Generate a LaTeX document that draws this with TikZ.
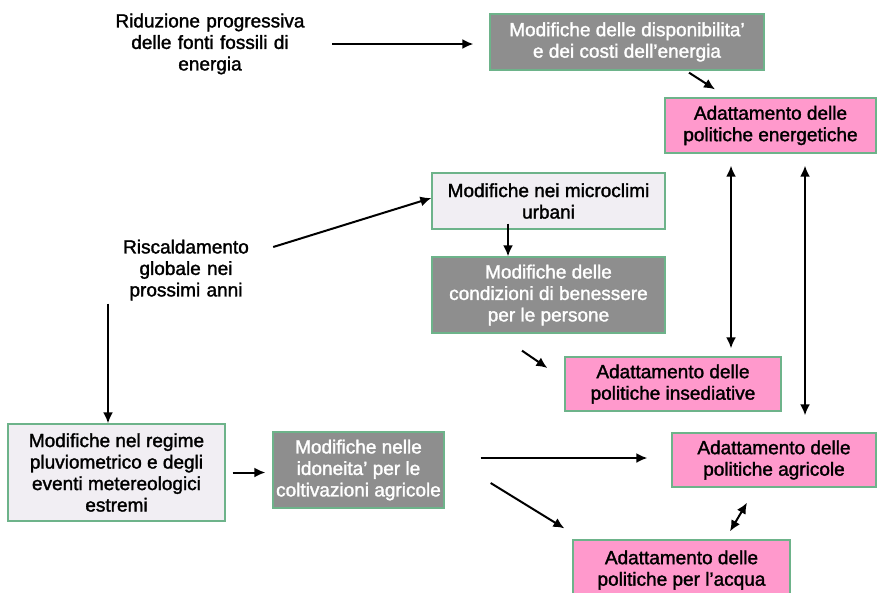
\documentclass[tikz,border=0pt]{standalone}
\usepackage{fontspec}
\setmainfont{Liberation Sans}[RawFeature={embolden=1.6}]
\usepackage{xcolor}
\usepackage{tikz}
\usetikzlibrary{positioning,calc,arrows.meta}

\definecolor{boxedge}{HTML}{6DB38A}
\definecolor{boxgray}{HTML}{8E8E8E}
\definecolor{boxlight}{HTML}{F1EEF3}
\definecolor{boxpink}{HTML}{FF99CC}

\begin{document}
\begin{tikzpicture}[x=1pt, y=-1pt,
    every node/.style={font=\fontsize{19}{21.5}\selectfont, align=center},
    box/.style={draw=boxedge, line width=1.3pt, inner sep=0pt},
    graybox/.style={box, fill=boxgray, text=white},
    lightbox/.style={box, fill=boxlight},
    pinkbox/.style={box, fill=boxpink},
    cause/.style={inner sep=0pt, text width=#1},
    arr/.style={line width=2pt, -{Latex[length=11pt,width=10pt]}},
    darr/.style={line width=2pt, {Latex[length=11pt,width=10pt]}-{Latex[length=11pt,width=10pt]}}]
  \useasboundingbox (0,0) rectangle (877,592);

  % Causes
  \node[cause=200pt] (rid) at (210,44) {Riduzione progressiva\\delle fonti fossili di\\energia};
  \node[cause=150pt] (risc) at (186,270) {Riscaldamento\\globale nei\\prossimi anni};

  % Modifications
  \node[graybox, minimum width=274pt, minimum height=56pt] (en) at (627,42) {Modifiche delle disponibilita'\\e dei costi dell'energia};
  \node[lightbox, minimum width=233pt, minimum height=56pt] (micro) at (548.5,201) {Modifiche nei microclimi\\urbani};
  \node[graybox, minimum width=233pt, minimum height=76pt] (ben) at (548.5,295) {Modifiche delle\\condizioni di benessere\\per le persone};
  \node[lightbox, minimum width=217pt, minimum height=97pt] (reg) at (116.5,472.5) {Modifiche nel regime\\pluviometrico e degli\\eventi metereologici\\estremi};
  \node[graybox, minimum width=171pt, minimum height=76pt] (ido) at (358.5,470) {Modifiche nelle\\idoneita' per le\\coltivazioni agricole};

  % Policies
  \node[pinkbox, minimum width=211pt, minimum height=55pt] (pen) at (770.5,125.5) {Adattamento delle\\politiche energetiche};
  \node[pinkbox, minimum width=216pt, minimum height=54pt] (ins) at (673,384) {Adattamento delle\\politiche insediative};
  \node[pinkbox, minimum width=204pt, minimum height=54pt] (agr) at (774,460) {Adattamento delle\\politiche agricole};
  \node[pinkbox, minimum width=217pt, minimum height=60pt] (acq) at (681.5,570) {Adattamento delle\\politiche per l'acqua};

  % Arrows
  \draw[arr, shorten <=22pt, shorten >=16pt] (rid.east) -- (rid.east -| en.west);
  \draw[arr] ([xshift=62pt,yshift=-2pt]en.south) -- ([xshift=-55.5pt,yshift=8pt]pen.north);
  \draw[arr] ([xshift=12pt,yshift=23pt]risc.east) -- ([yshift=3pt]micro.west);
  \draw[arr] ([xshift=-40.5pt,yshift=6pt]micro.south) -- ([xshift=-40.5pt]ben.north);
  \draw[arr] ([xshift=-26.5pt,yshift=-17pt]ben.south) -- ([xshift=-17pt,yshift=16pt]ins.west);
  \draw[arr] ([xshift=-8.5pt,yshift=-3pt]reg.north |- risc.south) -- ([xshift=-8.5pt]reg.north);
  \draw[arr, shorten <=7pt, shorten >=7pt] (reg.east) -- (reg.east -| ido.west);
  \draw[arr] ([xshift=36pt,yshift=12pt]ido.east) -- ([xshift=-24pt,yshift=2pt]agr.west);
  \draw[arr] ([xshift=46pt,yshift=-13pt]ido.east) -- ([xshift=-8pt,yshift=11pt]acq.north west);

  % Two-way links
  \draw[darr] ([xshift=-39.5pt,yshift=-12pt]pen.south) -- ([xshift=58pt,yshift=8pt]ins.north);
  \draw[darr] ([xshift=34.5pt,yshift=-12pt]pen.south) -- ([xshift=31pt,yshift=17pt]agr.north);
  \draw[darr] ([xshift=-27pt,yshift=-15pt]agr.south) -- ([xshift=48.5pt,yshift=8pt]acq.north);
\end{tikzpicture}
\end{document}
